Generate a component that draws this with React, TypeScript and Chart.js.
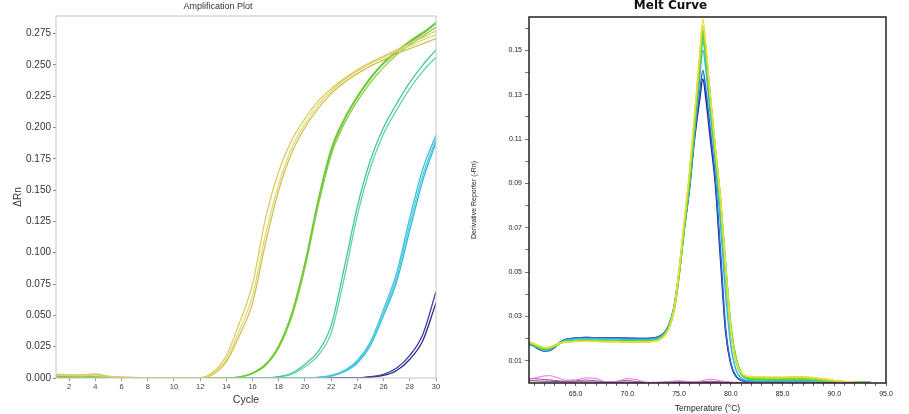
import React, { useEffect, useRef } from 'react';
import { Chart, registerables } from 'chart.js';

Chart.register(...registerables);

// ---------- Amplification plot data ----------
const cycles = [1, 2, 3, 4, 5, 6, 7, 8, 9, 10, 11, 12, 13, 14, 15, 16, 17, 18, 19, 20, 21, 22, 23, 24, 25, 26, 27, 28, 29, 30];
const ampYTicks = [0, 0.025, 0.05, 0.075, 0.1, 0.125, 0.15, 0.175, 0.2, 0.225, 0.25, 0.275];
const ampXTicks = [2, 4, 6, 8, 10, 12, 14, 16, 18, 20, 22, 24, 26, 28, 30];

const ampYellow1 = [0.0030, 0.0025, 0.0025, 0.0032, 0.0015, 0.0008, 0.0004, 0.0002, 0.0001, 0, 0, 0.0002, 0.0050, 0.0180, 0.0440, 0.0750, 0.1280, 0.1650, 0.1900, 0.2070, 0.2210, 0.2310, 0.2390, 0.2460, 0.2520, 0.2570, 0.2620, 0.2670, 0.2720, 0.2770];
const ampYellow2 = [0.0025, 0.0020, 0.0020, 0.0028, 0.0012, 0.0006, 0.0003, 0.0001, 0, 0, 0, 0.0001, 0.0040, 0.0150, 0.0380, 0.0660, 0.1150, 0.1550, 0.1840, 0.2030, 0.2180, 0.2290, 0.2380, 0.2450, 0.2510, 0.2560, 0.2610, 0.2650, 0.2700, 0.2740];
const ampYellow3 = [0.0020, 0.0020, 0.0018, 0.0025, 0.0010, 0.0005, 0.0002, 0, 0, 0, 0, 0, 0.0030, 0.0130, 0.0340, 0.0600, 0.1080, 0.1500, 0.1800, 0.2000, 0.2150, 0.2270, 0.2360, 0.2430, 0.2490, 0.2540, 0.2590, 0.2630, 0.2670, 0.2710];
const ampGreen1 = [0.0012, 0.0010, 0.0008, 0.0006, 0.0004, 0.0002, 0.0001, 0, 0, 0, 0, 0, 0, 0, 0.0008, 0.0040, 0.0110, 0.0260, 0.0520, 0.0920, 0.1420, 0.1830, 0.2070, 0.2250, 0.2400, 0.2520, 0.2610, 0.2690, 0.2760, 0.2840];
const ampGreen2 = [0.0010, 0.0008, 0.0007, 0.0005, 0.0003, 0.0002, 0.0001, 0, 0, 0, 0, 0, 0, 0, 0.0006, 0.0035, 0.0100, 0.0240, 0.0490, 0.0880, 0.1370, 0.1780, 0.2030, 0.2210, 0.2360, 0.2480, 0.2580, 0.2660, 0.2730, 0.2800];
const ampGreen3 = [0.0011, 0.0009, 0.0008, 0.0005, 0.0003, 0.0002, 0.0001, 0, 0, 0, 0, 0, 0, 0, 0.0007, 0.0040, 0.0110, 0.0250, 0.0510, 0.0900, 0.1400, 0.1810, 0.2060, 0.2240, 0.2390, 0.2510, 0.2600, 0.2680, 0.2750, 0.2830];
const ampTeal1 = [0.0008, 0.0006, 0.0005, 0.0004, 0.0003, 0.0002, 0.0001, 0, 0, 0, 0, 0, 0, 0, 0, 0, 0, 0.0010, 0.0040, 0.0110, 0.0210, 0.0420, 0.0880, 0.1370, 0.1740, 0.2000, 0.2190, 0.2360, 0.2500, 0.2620];
const ampTeal2 = [0.0006, 0.0005, 0.0004, 0.0003, 0.0002, 0.0001, 0, 0, 0, 0, 0, 0, 0, 0, 0, 0, 0, 0.0008, 0.0030, 0.0090, 0.0180, 0.0360, 0.0800, 0.1300, 0.1680, 0.1950, 0.2140, 0.2310, 0.2450, 0.2560];
const ampCyan1 = [0.0005, 0.0004, 0.0003, 0.0002, 0.0001, 0, 0, 0, 0, 0, 0, 0, 0, 0, 0, 0, 0, 0, 0, 0, 0.0005, 0.0020, 0.0060, 0.0140, 0.0290, 0.0550, 0.0840, 0.1280, 0.1670, 0.1940];
const ampCyan2 = [0.0004, 0.0003, 0.0002, 0.0002, 0.0001, 0, 0, 0, 0, 0, 0, 0, 0, 0, 0, 0, 0, 0, 0, 0, 0.0004, 0.0018, 0.0055, 0.0130, 0.0270, 0.0520, 0.0800, 0.1230, 0.1620, 0.1910];
const ampCyan3 = [0.0003, 0.0002, 0.0002, 0.0001, 0.0001, 0, 0, 0, 0, 0, 0, 0, 0, 0, 0, 0, 0, 0, 0, 0, 0.0003, 0.0015, 0.0050, 0.0120, 0.0260, 0.0500, 0.0770, 0.1180, 0.1580, 0.1880];
const ampBlue1 = [0.0002, 0.0001, 0.0001, 0, 0, 0, 0, 0, 0, 0, 0, 0, 0, 0, 0, 0, 0, 0, 0, 0, 0, 0, 0, 0, 0.0010, 0.0030, 0.0080, 0.0180, 0.0350, 0.0690];
const ampBlue2 = [0.0001, 0.0001, 0, 0, 0, 0, 0, 0, 0, 0, 0, 0, 0, 0, 0, 0, 0, 0, 0, 0, 0, 0, 0, 0, 0.0007, 0.0020, 0.0060, 0.0150, 0.0300, 0.0600];

// ---------- Melt curve data ----------
const meltTemps = [60.5, 61, 61.5, 62, 62.5, 63, 63.5, 64, 65, 66, 67, 68, 69, 70, 71, 72, 72.5, 73, 73.5, 74, 74.5, 75, 75.5, 76, 76.5, 77, 77.3, 77.6, 78, 78.5, 79, 79.5, 80, 80.5, 81, 81.5, 82, 83, 84, 85, 86, 87, 88, 89, 90, 91, 92, 93.5];
const meltXTicks = [61, 62, 63, 64, 65, 66, 67, 68, 69, 70, 71, 72, 73, 74, 75, 76, 77, 78, 79, 80, 81, 82, 83, 84, 85, 86, 87, 88, 89, 90, 91, 92, 93, 94, 95];
const meltYTicks = [0.01, 0.02, 0.03, 0.04, 0.05, 0.06, 0.07, 0.08, 0.09, 0.1, 0.11, 0.12, 0.13, 0.14, 0.15, 0.16];

const meltMagenta1 = [0.0018, 0.0022, 0.0028, 0.0032, 0.0033, 0.0028, 0.0020, 0.0013, 0.0014, 0.0023, 0.0020, 0.0006, 0.0007, 0.0020, 0.0014, 0.0002, 0.0002, 0.0003, 0.0005, 0.0007, 0.0009, 0.0010, 0.0009, 0.0006, 0.0005, 0.0008, 0.0011, 0.0014, 0.0017, 0.0015, 0.0010, 0.0006, 0.0004, 0.0003, 0.0003, 0.0003, 0.0003, 0.0003, 0.0003, 0.0003, 0.0003, 0.0003, 0.0003, 0.0003, 0.0003, 0.0003, 0.0002, 0.0002];
const meltMagenta2 = [0.0020, 0.0019, 0.0018, 0.0016, 0.0014, 0.0011, 0.0009, 0.0008, 0.0010, 0.0013, 0.0010, 0.0004, 0.0008, 0.0011, 0.0006, 0.0002, 0.0002, 0.0002, 0.0003, 0.0004, 0.0005, 0.0006, 0.0005, 0.0004, 0.0004, 0.0005, 0.0006, 0.0007, 0.0008, 0.0007, 0.0005, 0.0004, 0.0003, 0.0002, 0.0002, 0.0002, 0.0002, 0.0002, 0.0002, 0.0002, 0.0002, 0.0002, 0.0002, 0.0002, 0.0002, 0.0002, 0.0002, 0.0002];
const meltMagenta3 = [0.0010, 0.0010, 0.0009, 0.0008, 0.0008, 0.0007, 0.0006, 0.0005, 0.0005, 0.0005, 0.0004, 0.0004, 0.0004, 0.0004, 0.0003, 0.0003, 0.0003, 0.0003, 0.0003, 0.0003, 0.0003, 0.0003, 0.0003, 0.0003, 0.0003, 0.0003, 0.0003, 0.0003, 0.0003, 0.0003, 0.0003, 0.0003, 0.0002, 0.0002, 0.0002, 0.0002, 0.0002, 0.0002, 0.0002, 0.0002, 0.0002, 0.0002, 0.0002, 0.0002, 0.0002, 0.0002, 0.0002, 0.0001];

const meltYellow1 = [0.0186, 0.0177, 0.0167, 0.0160, 0.0162, 0.0171, 0.0180, 0.0185, 0.0187, 0.0188, 0.0187, 0.0186, 0.0186, 0.0185, 0.0185, 0.0185, 0.0187, 0.0193, 0.0209, 0.0245, 0.0327, 0.051, 0.073, 0.095, 0.121, 0.149, 0.164, 0.152, 0.131, 0.106, 0.083, 0.052, 0.024, 0.010, 0.0048, 0.0032, 0.0029, 0.0028, 0.0027, 0.0027, 0.0028, 0.0028, 0.0025, 0.0019, 0.0012, 0.0007, 0.0003, 0.0001];
const meltYellow2 = [0.0184, 0.0175, 0.0165, 0.0158, 0.0160, 0.0170, 0.0180, 0.0186, 0.0188, 0.0189, 0.0188, 0.0187, 0.0187, 0.0186, 0.0186, 0.0186, 0.0188, 0.0194, 0.0210, 0.0246, 0.0327, 0.050, 0.072, 0.094, 0.120, 0.147, 0.161, 0.150, 0.130, 0.106, 0.083, 0.052, 0.024, 0.010, 0.0045, 0.0030, 0.0027, 0.0025, 0.0024, 0.0024, 0.0025, 0.0025, 0.0022, 0.0016, 0.0010, 0.0006, 0.0003, 0.0001];
const meltGreen1 = [0.0183, 0.0173, 0.0162, 0.0155, 0.0157, 0.0168, 0.0180, 0.0186, 0.0189, 0.0190, 0.0189, 0.0188, 0.0188, 0.0187, 0.0187, 0.0187, 0.0189, 0.0195, 0.0211, 0.0247, 0.0327, 0.049, 0.071, 0.092, 0.118, 0.145, 0.159, 0.149, 0.129, 0.105, 0.082, 0.052, 0.025, 0.011, 0.0045, 0.0025, 0.0020, 0.0019, 0.0019, 0.0019, 0.0019, 0.0019, 0.0016, 0.0012, 0.0008, 0.0005, 0.0003, 0.0002];
const meltGreen2 = [0.0181, 0.0171, 0.0160, 0.0153, 0.0155, 0.0167, 0.0180, 0.0187, 0.0190, 0.0191, 0.0190, 0.0189, 0.0189, 0.0188, 0.0188, 0.0188, 0.0190, 0.0196, 0.0212, 0.0248, 0.0328, 0.049, 0.070, 0.090, 0.116, 0.143, 0.157, 0.148, 0.129, 0.105, 0.082, 0.052, 0.025, 0.011, 0.0045, 0.0024, 0.0018, 0.0016, 0.0016, 0.0016, 0.0016, 0.0016, 0.0014, 0.0011, 0.0008, 0.0005, 0.0003, 0.0002];
const meltTeal = [0.0180, 0.0170, 0.0158, 0.0151, 0.0153, 0.0166, 0.0181, 0.0189, 0.0193, 0.0194, 0.0193, 0.0192, 0.0192, 0.0191, 0.0190, 0.0190, 0.0192, 0.0198, 0.0214, 0.0250, 0.0330, 0.049, 0.070, 0.090, 0.115, 0.141, 0.154, 0.145, 0.126, 0.103, 0.079, 0.049, 0.023, 0.0095, 0.0038, 0.0020, 0.0015, 0.0013, 0.0013, 0.0013, 0.0013, 0.0013, 0.0011, 0.0009, 0.0007, 0.0005, 0.0003, 0.0002];
const meltCyan = [0.0177, 0.0167, 0.0155, 0.0147, 0.0150, 0.0165, 0.0183, 0.0193, 0.0199, 0.0200, 0.0199, 0.0198, 0.0198, 0.0197, 0.0196, 0.0196, 0.0198, 0.0204, 0.0220, 0.0257, 0.0337, 0.050, 0.070, 0.089, 0.113, 0.138, 0.150, 0.141, 0.122, 0.100, 0.072, 0.040, 0.017, 0.006, 0.0022, 0.0013, 0.0010, 0.0009, 0.0009, 0.0009, 0.0009, 0.0009, 0.0008, 0.0007, 0.0005, 0.0004, 0.0003, 0.0002];
const meltBlue1 = [0.0178, 0.0168, 0.0155, 0.0146, 0.0148, 0.0164, 0.0184, 0.0196, 0.0203, 0.0205, 0.0204, 0.0203, 0.0203, 0.0202, 0.0201, 0.0201, 0.0203, 0.0209, 0.0224, 0.026, 0.034, 0.050, 0.070, 0.088, 0.112, 0.131, 0.141, 0.132, 0.115, 0.093, 0.060, 0.025, 0.009, 0.0032, 0.0013, 0.0008, 0.0006, 0.0005, 0.0005, 0.0005, 0.0005, 0.0005, 0.0005, 0.0005, 0.0004, 0.0003, 0.0002, 0.0001];
const meltBlue2 = [0.0175, 0.0165, 0.0152, 0.0144, 0.0146, 0.0162, 0.0182, 0.0195, 0.0203, 0.0205, 0.0204, 0.0203, 0.0203, 0.0202, 0.0201, 0.0201, 0.0203, 0.0208, 0.0222, 0.0258, 0.0335, 0.049, 0.069, 0.087, 0.110, 0.128, 0.137, 0.128, 0.111, 0.090, 0.056, 0.023, 0.0085, 0.003, 0.0012, 0.0007, 0.0005, 0.0004, 0.0004, 0.0004, 0.0004, 0.0004, 0.0003, 0.0003, 0.0003, 0.0002, 0.0002, 0.0001];

// ---------- series tables (data + style) ----------
const ampSeries = [
  { name: 'Std 1a', values: ampYellow1, color: '#d8cc62' },
  { name: 'Std 1b', values: ampYellow2, color: '#e2d878' },
  { name: 'Std 1c', values: ampYellow3, color: '#cfc052' },
  { name: 'Std 2a', values: ampGreen1, color: '#72c83a' },
  { name: 'Std 2b', values: ampGreen2, color: '#84d040' },
  { name: 'Std 2c', values: ampGreen3, color: '#5cc030' },
  { name: 'Std 3a', values: ampTeal1, color: '#44c896' },
  { name: 'Std 3b', values: ampTeal2, color: '#66d0aa' },
  { name: 'Std 4a', values: ampCyan1, color: '#3cc4dc' },
  { name: 'Std 4b', values: ampCyan2, color: '#55cce4' },
  { name: 'Std 4c', values: ampCyan3, color: '#30b8d4' },
  { name: 'Std 5a', values: ampBlue1, color: '#3a3a9c' },
  { name: 'Std 5b', values: ampBlue2, color: '#2c2c88' },
];

const meltSeries = [
  { name: 'NTC a', values: meltMagenta1, color: '#dd77dd', width: 1 },
  { name: 'NTC b', values: meltMagenta2, color: '#aa44aa', width: 1 },
  { name: 'NTC c', values: meltMagenta3, color: '#773377', width: 1 },
  { name: 'Std 1a', values: meltYellow1, color: '#eedd33', width: 1.4 },
  { name: 'Std 1b', values: meltYellow2, color: '#c8dd33', width: 1.4 },
  { name: 'Std 2a', values: meltGreen1, color: '#66dd33', width: 2 },
  { name: 'Std 2b', values: meltGreen2, color: '#33cc66', width: 2 },
  { name: 'Std 3', values: meltTeal, color: '#33ccaa', width: 1.5 },
  { name: 'Std 4', values: meltCyan, color: '#33bbe0', width: 1.5 },
  { name: 'Std 5a', values: meltBlue1, color: '#3366cc', width: 1.5 },
  { name: 'Std 5b', values: meltBlue2, color: '#222299', width: 1.5 },
];

const framePlugin = (color: string, width: number) => ({
  id: 'frame',
  afterDatasetsDraw(chart: any) {
    const { ctx, chartArea: a } = chart;
    ctx.save();
    ctx.strokeStyle = color;
    ctx.lineWidth = width;
    ctx.strokeRect(a.left, a.top, a.right - a.left, a.bottom - a.top);
    ctx.restore();
  },
});

const FONT = 'Liberation Sans, Arial, sans-serif';

export default function App() {
  const leftRef = useRef<HTMLCanvasElement>(null);
  const rightRef = useRef<HTMLCanvasElement>(null);

  useEffect(() => {
    const left = new Chart(leftRef.current as HTMLCanvasElement, {
      type: 'line',
      data: {
        datasets: ampSeries.map((s) => ({
          label: s.name,
          data: cycles.map((c, i) => ({ x: c, y: s.values[i] })),
          borderColor: s.color,
          borderWidth: 1.3,
          pointRadius: 0,
          fill: false,
          cubicInterpolationMode: 'monotone' as const,
        })),
      },
      options: {
        responsive: false,
        animation: false,
        layout: { padding: { left: 0, right: 14, top: 0, bottom: 0 } },
        plugins: {
          legend: { display: false },
          tooltip: { enabled: false },
          title: {
            display: true,
            text: 'Amplification Plot',
            color: '#333',
            font: { family: FONT, size: 9, weight: 'normal', lineHeight: 1.1 },
            padding: { top: 1.5, bottom: 4.6 },
          },
        },
        scales: {
          x: {
            type: 'linear',
            min: 1,
            max: 30,
            afterBuildTicks: (s: any) => { s.ticks = ampXTicks.map((v) => ({ value: v })); },
            afterFit: (s: any) => { s.height = 36; },
            ticks: { autoSkip: false, maxRotation: 0, color: '#444', font: { family: FONT, size: 7.5 }, padding: 1 },
            grid: { display: true, drawOnChartArea: false, drawTicks: true, tickLength: 3, tickColor: '#999' },
            border: { display: false },
            title: { display: true, text: 'Cycle', color: '#333', font: { family: FONT, size: 10.5 }, padding: { top: 0, bottom: 7.7 } },
          },
          y: {
            type: 'linear',
            min: 0,
            max: 0.289,
            afterBuildTicks: (s: any) => { s.ticks = ampYTicks.map((v) => ({ value: v })); },
            afterFit: (s: any) => { s.width = 56; },
            ticks: { autoSkip: false, color: '#333', font: { family: FONT, size: 10 }, padding: 2, callback: (v: any) => Number(v).toFixed(3) },
            grid: { display: true, drawOnChartArea: false, drawTicks: true, tickLength: 3, tickColor: '#888' },
            border: { display: false },
            title: { display: true, text: 'ΔRn', color: '#333', font: { family: FONT, size: 10 }, padding: { top: 12, bottom: 0 } },
          },
        },
      },
      plugins: [framePlugin('#c4c4c4', 1)],
    } as any);

    const right = new Chart(rightRef.current as HTMLCanvasElement, {
      type: 'line',
      data: {
        datasets: meltSeries.map((s) => ({
          label: s.name,
          data: meltTemps.map((t, i) => ({ x: t, y: s.values[i] })),
          borderColor: s.color,
          borderWidth: s.width,
          pointRadius: 0,
          fill: false,
          cubicInterpolationMode: 'monotone' as const,
        })),
      },
      options: {
        responsive: false,
        animation: false,
        layout: { padding: { left: 0, right: 23, top: 0, bottom: 0 } },
        plugins: {
          legend: { display: false },
          tooltip: { enabled: false },
          title: {
            display: true,
            text: 'Melt Curve',
            color: '#111',
            font: { family: 'DejaVu Sans, sans-serif', size: 12, weight: 'bold', lineHeight: 0.95 },
            padding: { top: 0, bottom: 5.6 },
          },
        },
        scales: {
          x: {
            type: 'linear',
            min: 60.5,
            max: 95,
            afterBuildTicks: (s: any) => { s.ticks = meltXTicks.map((v) => ({ value: v })); },
            afterFit: (s: any) => { s.height = 31; },
            ticks: {
              autoSkip: false, maxRotation: 0, color: '#222', font: { family: FONT, size: 7 }, padding: 4,
              callback: (v: any) => (Number(v) % 5 === 0 ? Number(v).toFixed(1) : ''),
            },
            grid: { display: true, drawOnChartArea: false, drawTicks: true, tickLength: 3, tickColor: '#666' },
            border: { display: false },
            title: { display: true, text: 'Temperature (°C)', color: '#222', font: { family: FONT, size: 8.5 }, padding: { top: 0, bottom: 0 } },
          },
          y: {
            type: 'linear',
            min: 0,
            max: 0.165,
            afterBuildTicks: (s: any) => { s.ticks = meltYTicks.map((v) => ({ value: v })); },
            afterFit: (s: any) => { s.width = 74; },
            ticks: {
              autoSkip: false, color: '#222', font: { family: FONT, size: 7 }, padding: 3,
              callback: (v: any) => (Math.round(Number(v) * 100) % 2 === 1 ? Number(v).toFixed(2) : ''),
            },
            grid: { display: true, drawOnChartArea: false, drawTicks: true, tickLength: 4, tickColor: '#777' },
            border: { display: false },
            title: { display: true, text: 'Derivative Reporter (-Rn)', color: '#222', font: { family: FONT, size: 7 }, padding: { top: 15, bottom: 0 } },
          },
        },
      },
      plugins: [framePlugin('#222', 1.5)],
    } as any);

    return () => {
      left.destroy();
      right.destroy();
    };
  }, []);

  return (
    <div style={{ position: 'absolute', left: 0, top: 0, width: 909, height: 414, background: '#fff' }}>
      <div style={{ position: 'absolute', left: 0, top: 0, width: 450, height: 414 }}>
        <canvas ref={leftRef} width={450} height={414} style={{ width: 450, height: 414, display: 'block' }} />
      </div>
      <div style={{ position: 'absolute', left: 455, top: 0, width: 454, height: 414 }}>
        <canvas ref={rightRef} width={454} height={414} style={{ width: 454, height: 414, display: 'block' }} />
      </div>
    </div>
  );
}
